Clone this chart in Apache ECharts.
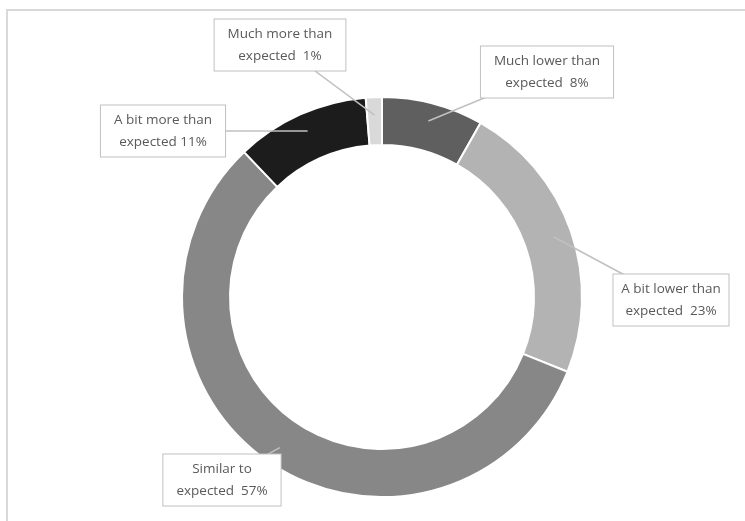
<!DOCTYPE html>
<html lang="en">
<head>
    <meta charset="utf-8" />
    <title></title>
    <script src="https://cdn.jsdelivr.net/npm/echarts@6/dist/echarts.min.js"></script>
</head>
<body style="margin:0;background:#fff;">
    <div id="main" style="width:745px;height:521px;"></div>
    <script>
        // slices, clockwise from 12 o'clock
        var names = ['Much lower than\nexpected', 'A bit lower than\nexpected', 'Similar to\nexpected', 'A bit more than\nexpected', 'Much more than\nexpected'];
        var values = [8.2, 22.9, 56.8, 10.8, 1.3];
        var colors = ['#5f5f5f', '#b3b3b3', '#878787', '#1c1c1c', '#d9d9d9'];
        // callout box centres
        var boxX = [547, 671, 222, 163, 280];
        var boxY = [72, 300, 480, 131, 45];

        var cx = 382, cy = 297, r0 = 152, r1 = 200;

        var chartDom = document.getElementById('main');
        var myChart = echarts.init(chartDom);

        var pieData = [];
        for (var i = 0; i < names.length; i++) {
            pieData.push({ name: names[i], value: values[i], itemStyle: { color: colors[i] } });
        }

        // second, invisible ring on top so the pointers sit over the slices
        var calloutData = [];
        for (var j = 0; j < names.length; j++) {
            calloutData.push({ name: names[j], value: values[j] });
        }

        var option = {
            animation: false,
            graphic: [{
                type: 'rect',
                shape: { x: 7, y: 10, width: 800, height: 600 },
                style: { fill: 'none', stroke: '#d9d9d9', lineWidth: 2 },
                silent: true
            }],
            series: [{
                type: 'pie',
                z: 1,
                center: [cx, cy],
                radius: [r0, r1],
                startAngle: 90,
                clockwise: true,
                data: pieData,
                silent: true,
                itemStyle: { borderColor: '#fff', borderWidth: 2 },
                label: { show: false },
                labelLine: { show: false }
            }, {
                type: 'pie',
                z: 5,
                center: [cx, cy],
                radius: [r0, r1],
                startAngle: 90,
                clockwise: true,
                percentPrecision: 0,
                data: calloutData,
                itemStyle: { color: 'rgba(0,0,0,0)' },
                emphasis: { disabled: true },
                label: {
                    show: true,
                    formatter: function (p) {
                        var sep = p.dataIndex == 3 ? ' ' : '  ';
                        return p.name + sep + Math.round(p.percent) + '%';
                    },
                    overflow: 'none',
                    fontFamily: 'Open Sans',
                    fontSize: 13.5,
                    lineHeight: 22,
                    color: '#595959',
                    align: 'center',
                    backgroundColor: '#fff',
                    borderColor: '#c0c0c0',
                    borderWidth: 1,
                    padding: [4, 13, 3, 13]
                },
                labelLine: {
                    show: true,
                    lineStyle: { color: '#c0c0c0', width: 1.5 }
                },
                labelLayout: function (params) {
                    var i = params.dataIndex;
                    var p = params.labelLinePoints;
                    var k = (r0 + r1) / 2 / r1 + 0.03;
                    var tip = [cx + (p[0][0] - cx) * k, cy + (p[0][1] - cy) * k];
                    return {
                        x: boxX[i],
                        y: boxY[i],
                        align: 'center',
                        verticalAlign: 'middle',
                        labelLinePoints: [tip, tip, [boxX[i], boxY[i]]]
                    };
                }
            }]
        };

        option && myChart.setOption(option);
    </script>
</body>
</html>
